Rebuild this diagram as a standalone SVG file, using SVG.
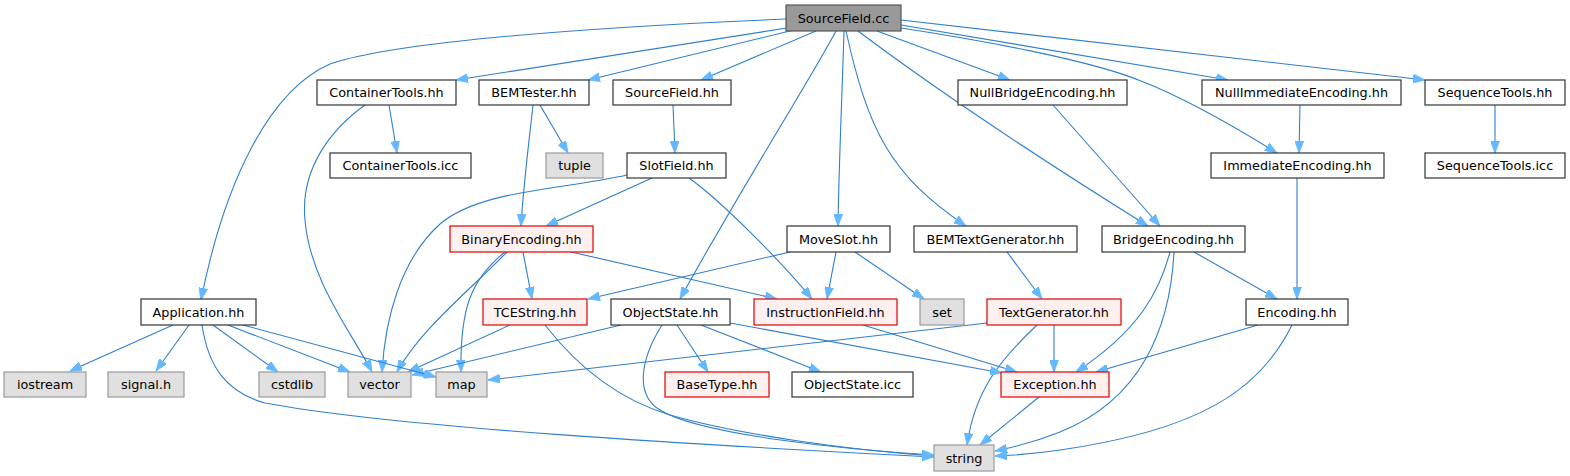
<svg xmlns="http://www.w3.org/2000/svg" width="1570" height="476" viewBox="0 0 1570 476">
<style>
text{font-family:"DejaVu Sans","Liberation Sans",sans-serif;font-size:12.8px;fill:#000;text-anchor:middle}
.n rect{fill:#ffffff;stroke:#333333;stroke-width:1.2}
.r rect{fill:#fff0f0;stroke:#e00000;stroke-width:1.2}
.g rect{fill:#e0e0e0;stroke:#999999;stroke-width:1.2}
.root rect{fill:#999999;stroke:#555555;stroke-width:1.2}
#edges path{fill:none;stroke:#2f7fcc;stroke-width:1.1;marker-end:url(#ah)}
</style>
<defs>
<marker id="ah" markerUnits="userSpaceOnUse" viewBox="0 0 12 9" markerWidth="12" markerHeight="9" refX="12" refY="4.5" orient="auto">
<polygon points="0,0 12,4.5 0,9" fill="#63b8ff" stroke="#63b8ff" stroke-width="0.8"/>
</marker>
</defs>
<rect width="1570" height="476" fill="#ffffff"/>
<g id="edges">
<path d="M786,19 C600,27 400,40 330,64 C270,90 225,180 201,300"/>
<path d="M787,28 L456,80"/>
<path d="M794,30 L588,80"/>
<path d="M816,31 L701,80"/>
<path d="M836,31 C810,80 740,190 680,299"/>
<path d="M844,31 C842,100 839,160 838,226"/>
<path d="M846,31 C868,130 890,175 966,226"/>
<path d="M858,31 C950,100 1050,165 1148,226"/>
<path d="M877,31 L1010,80"/>
<path d="M901,28 C980,40 1090,60 1141,81 C1190,100 1240,130 1277,153"/>
<path d="M901,25 L1228,80"/>
<path d="M901,20 L1425,80"/>
<path d="M389,105 L397,153"/>
<path d="M365,105 C330,130 300,170 305,220 C310,280 350,330 372,372"/>
<path d="M673,105 L675,153"/>
<path d="M540,105 L568,153"/>
<path d="M533,105 C528,150 523,190 521,226"/>
<path d="M627,175 C560,190 480,190 440,224 C400,260 385,320 382,372"/>
<path d="M652,178 L546,226"/>
<path d="M689,178 C720,200 780,260 812,299"/>
<path d="M523,252 L532,299"/>
<path d="M571,252 L777,299"/>
<path d="M507,252 C470,290 420,330 397,372"/>
<path d="M505,252 C470,280 460,310 461,372"/>
<path d="M790,252 L588,299"/>
<path d="M836,252 L827,299"/>
<path d="M855,252 L924,299"/>
<path d="M1007,252 L1042,299"/>
<path d="M1194,252 L1277,299"/>
<path d="M1170,252 C1160,290 1140,330 1076,372"/>
<path d="M1174,252 C1170,330 1140,400 1060,432 C1040,440 1020,446 995,451"/>
<path d="M1292,325 C1260,390 1200,430 1060,450 C1040,453 1020,455 995,456"/>
<path d="M1258,325 L1096,372"/>
<path d="M1297,178 L1297,299"/>
<path d="M1300,105 L1299,153"/>
<path d="M1495,105 L1495,153"/>
<path d="M1053,105 L1160,226"/>
<path d="M1054,325 L1054,372"/>
<path d="M1037,325 C1000,360 975,390 967,445"/>
<path d="M987,323 L488,380"/>
<path d="M621,325 L412,375"/>
<path d="M662,325 C640,360 635,395 660,410 C700,435 850,450 934,455"/>
<path d="M545,325 C580,370 620,400 670,415 C740,435 850,450 934,456"/>
<path d="M202,325 C208,365 225,392 265,403 C400,428 700,445 934,457"/>
<path d="M677,325 L708,372"/>
<path d="M701,325 L821,372"/>
<path d="M730,323 L1002,373"/>
<path d="M863,325 L1017,372"/>
<path d="M510,325 L408,372"/>
<path d="M173,325 L70,371"/>
<path d="M189,325 L156,371"/>
<path d="M213,325 L278,372"/>
<path d="M228,325 L350,372"/>
<path d="M243,325 L436,377"/>
<path d="M1039,397 L980,445"/>
</g>
<g id="n_SourceField_cc" class="root"><rect x="786" y="5" width="115" height="26"/><text x="843.5" y="22.5">SourceField.cc</text></g>
<g id="n_ContainerTools_hh" class="n"><rect x="317" y="80" width="139" height="25"/><text x="386.5" y="97">ContainerTools.hh</text></g>
<g id="n_BEMTester_hh" class="n"><rect x="479" y="80" width="110" height="25"/><text x="534" y="97">BEMTester.hh</text></g>
<g id="n_SourceField_hh" class="n"><rect x="613" y="80" width="118" height="25"/><text x="672" y="97">SourceField.hh</text></g>
<g id="n_NullBridgeEncoding_hh" class="n"><rect x="958" y="80" width="169" height="25"/><text x="1042.5" y="97">NullBridgeEncoding.hh</text></g>
<g id="n_NullImmediateEncoding_hh" class="n"><rect x="1202" y="80" width="199" height="25"/><text x="1301.5" y="97">NullImmediateEncoding.hh</text></g>
<g id="n_SequenceTools_hh" class="n"><rect x="1425" y="80" width="140" height="25"/><text x="1495" y="97">SequenceTools.hh</text></g>
<g id="n_ContainerTools_icc" class="n"><rect x="330" y="153" width="141" height="25"/><text x="400.5" y="170">ContainerTools.icc</text></g>
<g id="n_tuple" class="g"><rect x="546" y="153" width="57" height="25"/><text x="574.5" y="170">tuple</text></g>
<g id="n_SlotField_hh" class="n"><rect x="627" y="153" width="99" height="25"/><text x="676.5" y="170">SlotField.hh</text></g>
<g id="n_ImmediateEncoding_hh" class="n"><rect x="1211" y="153" width="173" height="25"/><text x="1297.5" y="170">ImmediateEncoding.hh</text></g>
<g id="n_SequenceTools_icc" class="n"><rect x="1425" y="153" width="140" height="25"/><text x="1495" y="170">SequenceTools.icc</text></g>
<g id="n_BinaryEncoding_hh" class="r"><rect x="450" y="226" width="143" height="26"/><text x="521.5" y="243.5">BinaryEncoding.hh</text></g>
<g id="n_MoveSlot_hh" class="n"><rect x="787" y="226" width="103" height="26"/><text x="838.5" y="243.5">MoveSlot.hh</text></g>
<g id="n_BEMTextGenerator_hh" class="n"><rect x="914" y="226" width="163" height="26"/><text x="995.5" y="243.5">BEMTextGenerator.hh</text></g>
<g id="n_BridgeEncoding_hh" class="n"><rect x="1102" y="226" width="143" height="26"/><text x="1173.5" y="243.5">BridgeEncoding.hh</text></g>
<g id="n_Application_hh" class="n"><rect x="141" y="299" width="115" height="26"/><text x="198.5" y="316.5">Application.hh</text></g>
<g id="n_TCEString_hh" class="r"><rect x="483" y="299" width="104" height="26"/><text x="535" y="316.5">TCEString.hh</text></g>
<g id="n_ObjectState_hh" class="n"><rect x="611" y="299" width="119" height="26"/><text x="670.5" y="316.5">ObjectState.hh</text></g>
<g id="n_InstructionField_hh" class="r"><rect x="754" y="299" width="143" height="26"/><text x="825.5" y="316.5">InstructionField.hh</text></g>
<g id="n_set" class="g"><rect x="920" y="299" width="44" height="26"/><text x="942" y="316.5">set</text></g>
<g id="n_TextGenerator_hh" class="r"><rect x="987" y="299" width="134" height="26"/><text x="1054" y="316.5">TextGenerator.hh</text></g>
<g id="n_Encoding_hh" class="n"><rect x="1246" y="299" width="102" height="26"/><text x="1297" y="316.5">Encoding.hh</text></g>
<g id="n_iostream" class="g"><rect x="4" y="372" width="82" height="25"/><text x="45" y="389">iostream</text></g>
<g id="n_signal_h" class="g"><rect x="108" y="372" width="76" height="25"/><text x="146" y="389">signal.h</text></g>
<g id="n_cstdlib" class="g"><rect x="259" y="372" width="66" height="25"/><text x="292" y="389">cstdlib</text></g>
<g id="n_vector" class="g"><rect x="348" y="372" width="63" height="25"/><text x="379.5" y="389">vector</text></g>
<g id="n_map" class="g"><rect x="436" y="372" width="51" height="25"/><text x="461.5" y="389">map</text></g>
<g id="n_BaseType_hh" class="r"><rect x="665" y="372" width="104" height="25"/><text x="717" y="389">BaseType.hh</text></g>
<g id="n_ObjectState_icc" class="n"><rect x="792" y="372" width="121" height="25"/><text x="852.5" y="389">ObjectState.icc</text></g>
<g id="n_Exception_hh" class="r"><rect x="1001" y="372" width="108" height="25"/><text x="1055" y="389">Exception.hh</text></g>
<g id="n_string" class="g"><rect x="934" y="445" width="60" height="26"/><text x="964" y="462.5">string</text></g>
</svg>
